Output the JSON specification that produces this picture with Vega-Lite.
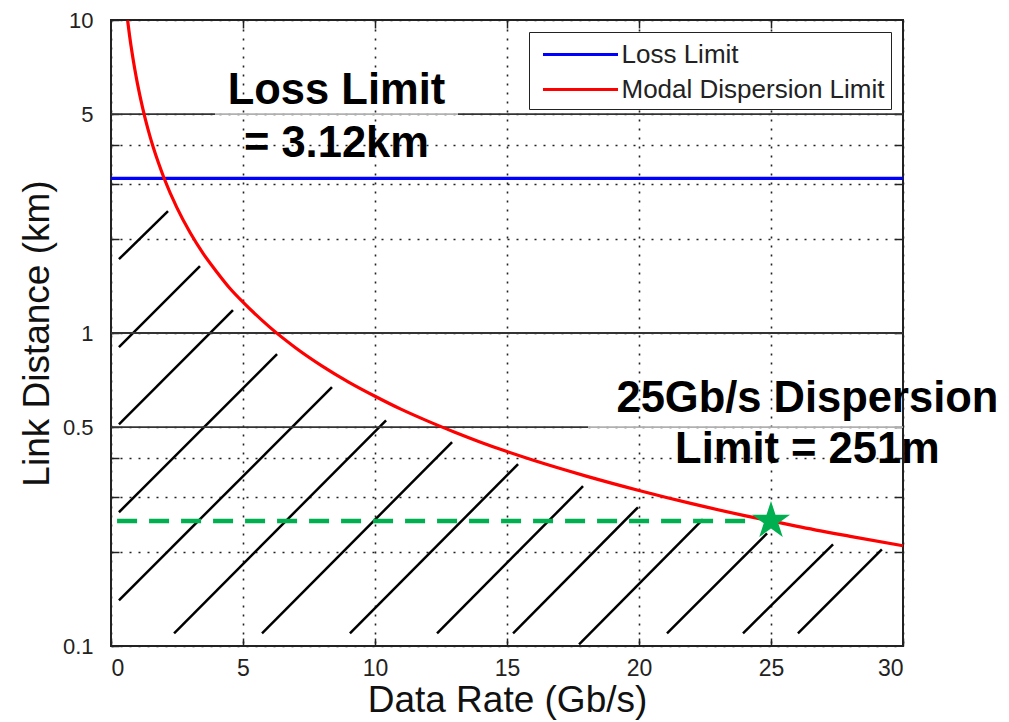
{
  "$schema": "https://vega.github.io/schema/vega-lite/v6.json",
  "width": 792,
  "height": 626,
  "autosize": {"type": "none"},
  "padding": {"left": 111, "top": 20, "right": 106, "bottom": 76},
  "background": "white",
  "config": {
    "font": "Liberation Sans",
    "view": {"stroke": "#222", "strokeWidth": 2},
    "axis": {
      "domain": false,
      "tickColor": "#222",
      "tickWidth": 1.5,
      "tickSize": -8,
      "labelColor": "#222",
      "labelFont": "Liberation Sans",
      "labelOverlap": false,
      "titleFont": "Liberation Sans",
      "titleFontWeight": "normal",
      "titleColor": "#111",
      "gridColor": "#222",
      "gridDash": [2, 7],
      "gridWidth": 1.6,
      "gridOpacity": 1
    }
  },
  "datasets": {
    "hatch": [
      {"x": 0.30, "y": 1.721, "x2": 2.16, "y2": 2.451},
      {"x": 0.30, "y": 0.901, "x2": 3.37, "y2": 1.635},
      {"x": 0.30, "y": 0.511, "x2": 4.62, "y2": 1.183},
      {"x": 0.30, "y": 0.2675, "x2": 6.29, "y2": 0.856},
      {"x": 0.30, "y": 0.140, "x2": 8.37, "y2": 0.671},
      {"x": 2.39, "y": 0.1098, "x2": 10.42, "y2": 0.526},
      {"x": 5.72, "y": 0.1098, "x2": 12.92, "y2": 0.448},
      {"x": 9.05, "y": 0.1098, "x2": 15.42, "y2": 0.381},
      {"x": 12.35, "y": 0.1098, "x2": 17.88, "y2": 0.324},
      {"x": 15.23, "y": 0.1098, "x2": 19.96, "y2": 0.2775},
      {"x": 17.73, "y": 0.1012, "x2": 22.42, "y2": 0.254},
      {"x": 21.06, "y": 0.1098, "x2": 24.85, "y2": 0.229},
      {"x": 23.94, "y": 0.1098, "x2": 27.35, "y2": 0.2113},
      {"x": 26.02, "y": 0.1098, "x2": 29.2, "y2": 0.2037}
    ],
    "solidRules": [
      {"y": 1, "x": 0, "x2": 30},
      {"y": 5, "x": 0, "x2": 3.94},
      {"y": 5, "x": 13.14, "x2": 30},
      {"y": 0.5, "x": 0, "x2": 18.07}
    ],
    "fadedRules": [
      {"y": 5, "x": 3.94, "x2": 13.14},
      {"y": 0.5, "x": 18.07, "x2": 30}
    ],
    "target": [
      {"x": 0.23, "x2": 24.4, "y": 0.251}
    ],
    "star": [
      {"x": 25, "y": 0.251}
    ],
    "limits": [
      {"series": "Loss Limit", "x": 0, "y": 3.12},
      {"series": "Loss Limit", "x": 30, "y": 3.12},
      {"series": "Modal Dispersion Limit", "x": 0.63, "y": 9.96},
      {"series": "Modal Dispersion Limit", "x": 0.7, "y": 8.96},
      {"series": "Modal Dispersion Limit", "x": 0.8, "y": 7.84},
      {"series": "Modal Dispersion Limit", "x": 0.9, "y": 6.97},
      {"series": "Modal Dispersion Limit", "x": 1.0, "y": 6.275},
      {"series": "Modal Dispersion Limit", "x": 1.2, "y": 5.23},
      {"series": "Modal Dispersion Limit", "x": 1.4, "y": 4.48},
      {"series": "Modal Dispersion Limit", "x": 1.6, "y": 3.92},
      {"series": "Modal Dispersion Limit", "x": 1.8, "y": 3.49},
      {"series": "Modal Dispersion Limit", "x": 2.0, "y": 3.14},
      {"series": "Modal Dispersion Limit", "x": 2.5, "y": 2.51},
      {"series": "Modal Dispersion Limit", "x": 3.0, "y": 2.09},
      {"series": "Modal Dispersion Limit", "x": 3.5, "y": 1.79},
      {"series": "Modal Dispersion Limit", "x": 4.0, "y": 1.57},
      {"series": "Modal Dispersion Limit", "x": 4.5, "y": 1.39},
      {"series": "Modal Dispersion Limit", "x": 5.0, "y": 1.255},
      {"series": "Modal Dispersion Limit", "x": 6.0, "y": 1.046},
      {"series": "Modal Dispersion Limit", "x": 7.0, "y": 0.896},
      {"series": "Modal Dispersion Limit", "x": 8.0, "y": 0.784},
      {"series": "Modal Dispersion Limit", "x": 9.0, "y": 0.697},
      {"series": "Modal Dispersion Limit", "x": 10.0, "y": 0.628},
      {"series": "Modal Dispersion Limit", "x": 11.0, "y": 0.570},
      {"series": "Modal Dispersion Limit", "x": 12.0, "y": 0.523},
      {"series": "Modal Dispersion Limit", "x": 13.0, "y": 0.483},
      {"series": "Modal Dispersion Limit", "x": 14.0, "y": 0.448},
      {"series": "Modal Dispersion Limit", "x": 15.0, "y": 0.418},
      {"series": "Modal Dispersion Limit", "x": 16.0, "y": 0.392},
      {"series": "Modal Dispersion Limit", "x": 18.0, "y": 0.349},
      {"series": "Modal Dispersion Limit", "x": 20.0, "y": 0.314},
      {"series": "Modal Dispersion Limit", "x": 22.0, "y": 0.285},
      {"series": "Modal Dispersion Limit", "x": 24.0, "y": 0.261},
      {"series": "Modal Dispersion Limit", "x": 25.0, "y": 0.251},
      {"series": "Modal Dispersion Limit", "x": 26.0, "y": 0.241},
      {"series": "Modal Dispersion Limit", "x": 28.0, "y": 0.224},
      {"series": "Modal Dispersion Limit", "x": 30.0, "y": 0.209}
    ],
    "notes": [
      {"x": 8.54, "y": 5.387, "text": "Loss Limit"},
      {"x": 8.54, "y": 3.646, "text": "= 3.12km"},
      {"x": 26.38, "y": 0.558, "text": "25Gb/s Dispersion"},
      {"x": 26.38, "y": 0.3835, "text": "Limit = 251m"}
    ]
  },
  "layer": [
    {
      "data": {"name": "hatch"},
      "mark": {"type": "rule", "color": "black", "strokeWidth": 2.5},
      "encoding": {
        "x": {
          "field": "x", "type": "quantitative",
          "scale": {"domain": [0, 30], "nice": false, "zero": false},
          "axis": {
            "orient": "bottom",
            "values": [0, 5, 10, 15, 20, 25, 30],
            "format": "d",
            "grid": true,
            "labelFontSize": 23,
            "labelPadding": 19,
            "title": "Data Rate (Gb/s)",
            "titleFontSize": 37,
            "titlePadding": 2
          }
        },
        "y": {
          "field": "y", "type": "quantitative",
          "scale": {"type": "log", "domain": [0.1, 10], "nice": false},
          "axis": {
            "orient": "left",
            "values": [0.1, 0.2, 0.3, 0.4, 0.5, 1, 2, 3, 4, 5, 10],
            "labelExpr": "(datum.value == 0.1 || datum.value == 0.5 || datum.value == 1 || datum.value == 5 || datum.value == 10) ? format(datum.value, '~g') : ''",
            "grid": true,
            "labelFontSize": 22,
            "labelPadding": 26,
            "title": "Link Distance (km)",
            "titleFontSize": 37,
            "titlePadding": 6
          }
        },
        "x2": {"field": "x2"},
        "y2": {"field": "y2"}
      }
    },
    {
      "data": {"name": "solidRules"},
      "mark": {"type": "rule", "color": "#333", "strokeWidth": 1.8},
      "encoding": {
        "x": {
          "field": "x", "type": "quantitative",
          "axis": {"orient": "top", "values": [5, 10, 15, 20, 25], "labels": false, "grid": false, "title": null}
        },
        "x2": {"field": "x2"},
        "y": {
          "field": "y", "type": "quantitative",
          "axis": {"orient": "right", "values": [0.2, 0.3, 0.4, 0.5, 1, 2, 3, 4, 5], "labels": false, "grid": false, "title": null}
        }
      }
    },
    {
      "data": {"name": "fadedRules"},
      "mark": {"type": "rule", "color": "#b0b0b0", "strokeWidth": 1.8},
      "encoding": {
        "x": {"field": "x", "type": "quantitative", "axis": null},
        "x2": {"field": "x2"},
        "y": {"field": "y", "type": "quantitative", "axis": null}
      }
    },
    {
      "data": {"name": "target"},
      "mark": {"type": "rule", "color": "#00B050", "strokeWidth": 4.5, "strokeDash": [20, 12]},
      "encoding": {
        "x": {"field": "x", "type": "quantitative", "axis": null},
        "x2": {"field": "x2"},
        "y": {"field": "y", "type": "quantitative", "axis": null}
      }
    },
    {
      "data": {"name": "limits"},
      "mark": {"type": "line", "strokeWidth": 3.2, "interpolate": "monotone"},
      "encoding": {
        "x": {"field": "x", "type": "quantitative", "axis": null},
        "y": {"field": "y", "type": "quantitative", "axis": null},
        "color": {
          "field": "series", "type": "nominal",
          "scale": {"domain": ["Loss Limit", "Modal Dispersion Limit"], "range": ["#0000ff", "#ff0000"]},
          "legend": {
            "title": null,
            "orient": "none",
            "legendX": 418,
            "legendY": 12,
            "strokeColor": "#222",
            "fillColor": "white",
            "padding": 6,
            "symbolType": "M-2.5,0L2.5,0",
            "symbolSize": 900,
            "symbolOffset": 29,
            "symbolStrokeWidth": 3,
            "labelFontSize": 26,
            "labelColor": "#222",
            "labelOffset": 24.5,
            "rowPadding": 5,
            "labelLimit": 400
          }
        }
      }
    },
    {
      "data": {"name": "star"},
      "mark": {"type": "point", "shape": "M0,-1L0.2245,-0.309L0.951,-0.309L0.363,0.118L0.588,0.809L0,0.382L-0.588,0.809L-0.363,0.118L-0.951,-0.309L-0.2245,-0.309Z", "filled": true, "color": "#00B050", "size": 1600, "opacity": 1},
      "encoding": {
        "x": {"field": "x", "type": "quantitative", "axis": null},
        "y": {"field": "y", "type": "quantitative", "axis": null}
      }
    },
    {
      "data": {"name": "notes"},
      "mark": {"type": "text", "fontSize": 43.5, "fontWeight": "bold", "font": "Liberation Sans", "align": "center", "baseline": "alphabetic", "color": "black"},
      "encoding": {
        "x": {"field": "x", "type": "quantitative", "axis": null},
        "y": {"field": "y", "type": "quantitative", "axis": null},
        "text": {"field": "text", "type": "nominal"}
      }
    }
  ],
  "resolve": {"axis": {"x": "independent", "y": "independent"}}
}
